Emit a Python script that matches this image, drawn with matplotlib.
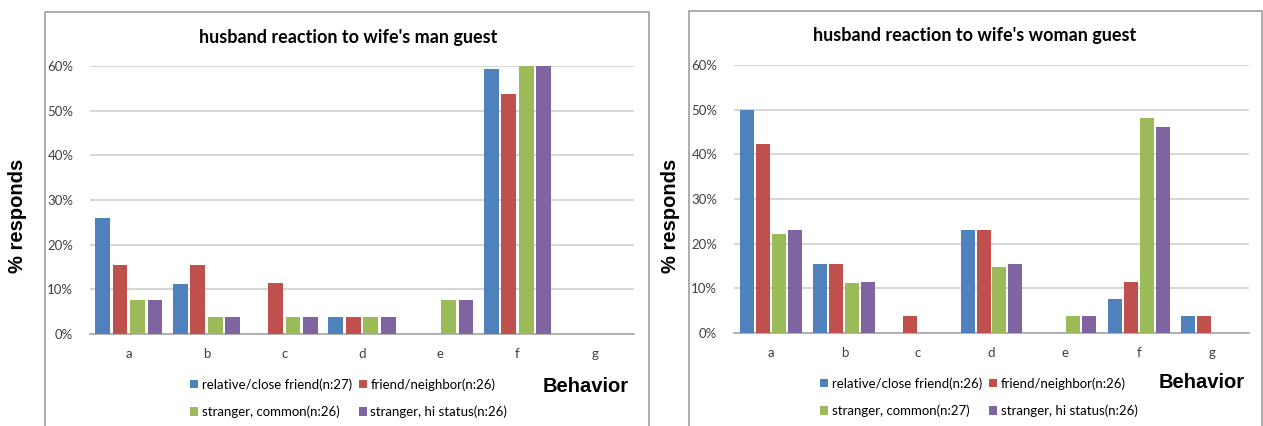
import matplotlib
matplotlib.use('Agg')
import matplotlib.pyplot as plt
from matplotlib.lines import Line2D
from matplotlib.ticker import PercentFormatter
import numpy as np

behaviors = ['a', 'b', 'c', 'd', 'e', 'f', 'g']
colors = ['#4F81BD', '#C0504D', '#9BBB59', '#8064A2']

# husband reaction to wife's man guest (% of respondents)
man_labels = ['relative/close friend(n:27)', 'friend/neighbor(n:26)',
              'stranger, common(n:26)', 'stranger, hi status(n:26)']
man_relative = [25.9, 11.1, 0, 3.7, 0, 59.3, 0]
man_friend = [15.4, 15.4, 11.5, 3.8, 0, 53.8, 0]
man_stranger = [7.7, 3.8, 3.8, 3.8, 7.7, 73.1, 0]
man_status = [7.7, 3.8, 3.8, 3.8, 7.7, 73.1, 0]

# husband reaction to wife's woman guest (% of respondents)
woman_labels = ['relative/close friend(n:26)', 'friend/neighbor(n:26)',
                'stranger, common(n:27)', 'stranger, hi status(n:26)']
woman_relative = [50.0, 15.4, 0, 23.1, 0, 7.7, 3.8]
woman_friend = [42.3, 15.4, 3.8, 23.1, 0, 11.5, 3.8]
woman_stranger = [22.2, 11.1, 0, 14.8, 3.7, 48.1, 0]
woman_status = [23.1, 11.5, 0, 15.4, 3.8, 46.2, 0]

W, H = 1263, 426
BODY = 'Lato'
BOLD = 'Liberation Sans'

fig = plt.figure(figsize=(W / 100, H / 100), dpi=100)


def px(x, y):
    return x / W, 1 - y / H


def frame(x0, y0, x1, y1):
    xs = [x0, x0, x1, x1]
    ys = [y1, y0, y0, y1]
    fig.add_artist(Line2D([x / W for x in xs], [1 - y / H for y in ys],
                          color='#a6a6a6', lw=1.3, transform=fig.transFigure))


def chart(rect, series, labels, title, title_xy, ylab_xy, beh_xy, leg_xy,
          slot, width):
    ax = fig.add_axes(rect)
    x = np.arange(len(behaviors))
    handles = []
    for i, (vals, c) in enumerate(zip(series, colors)):
        b = ax.bar(x + (i - 1.5) * slot, np.array(vals) / 100, width,
                   color=c, edgecolor='none', zorder=3)
        handles.append(b)
    ax.set_xlim(-0.5, len(behaviors) - 0.5)
    ax.set_ylim(0, 0.6)
    ax.set_yticks(np.arange(0, 0.61, 0.1))
    ax.yaxis.set_major_formatter(PercentFormatter(1.0, decimals=0))
    ax.set_xticks(x)
    ax.set_xticklabels(behaviors)
    ax.grid(axis='y', color='#d0d0d0', lw=1.2, zorder=0)
    for s in ['left', 'right', 'top']:
        ax.spines[s].set_visible(False)
    ax.spines['bottom'].set_color('#a6a6a6')
    ax.spines['bottom'].set_linewidth(1.2)
    ax.tick_params(length=0, labelsize=9.5, colors='#404040', pad=12)
    for t in ax.get_xticklabels() + ax.get_yticklabels():
        t.set_family(BODY)
    ax.tick_params(axis='x', pad=10)

    fig.text(*px(*title_xy), title, ha='center', va='center',
             family=BODY, fontweight='bold', fontsize=13)
    fig.text(*px(*ylab_xy), '% responds', rotation=90, ha='center',
             va='center', family=BOLD, fontweight='bold', fontsize=14.5)
    fig.text(*px(*beh_xy), 'Behavior', ha='center', va='center',
             family=BOLD, fontweight='bold', fontsize=14.5)

    # two rows: relative | friend, then stranger common | hi status
    order = [0, 2, 1, 3]
    fig.legend([handles[i] for i in order], [labels[i] for i in order],
               ncol=2, loc='upper left', bbox_to_anchor=px(*leg_xy),
               frameon=False, prop={'family': BODY, 'size': 9.5},
               handlelength=0.6, handleheight=0.6, handletextpad=0.3,
               columnspacing=0.5, labelspacing=1.15, borderpad=0,
               borderaxespad=0)
    return ax


frame(45, 12, 649, 430)
frame(689, 11, 1262, 430)

l0, b0 = px(90, 334)
l1, b1 = px(634, 66)
chart([l0, b0, l1 - l0, b1 - b0],
      [man_relative, man_friend, man_stranger, man_status], man_labels,
      "husband reaction to wife's man guest", (348, 37), (18, 216),
      (586, 386), (190, 378), 0.225, 0.19)

l0, b0 = px(734, 333)
l1, b1 = px(1249, 65)
chart([l0, b0, l1 - l0, b1 - b0],
      [woman_relative, woman_friend, woman_stranger, woman_status],
      woman_labels,
      "husband reaction to wife's woman guest", (975, 35), (670, 216),
      (1202, 382), (820, 377), 0.217, 0.19)

plt.savefig('out.png', dpi=100)
plt.close()
